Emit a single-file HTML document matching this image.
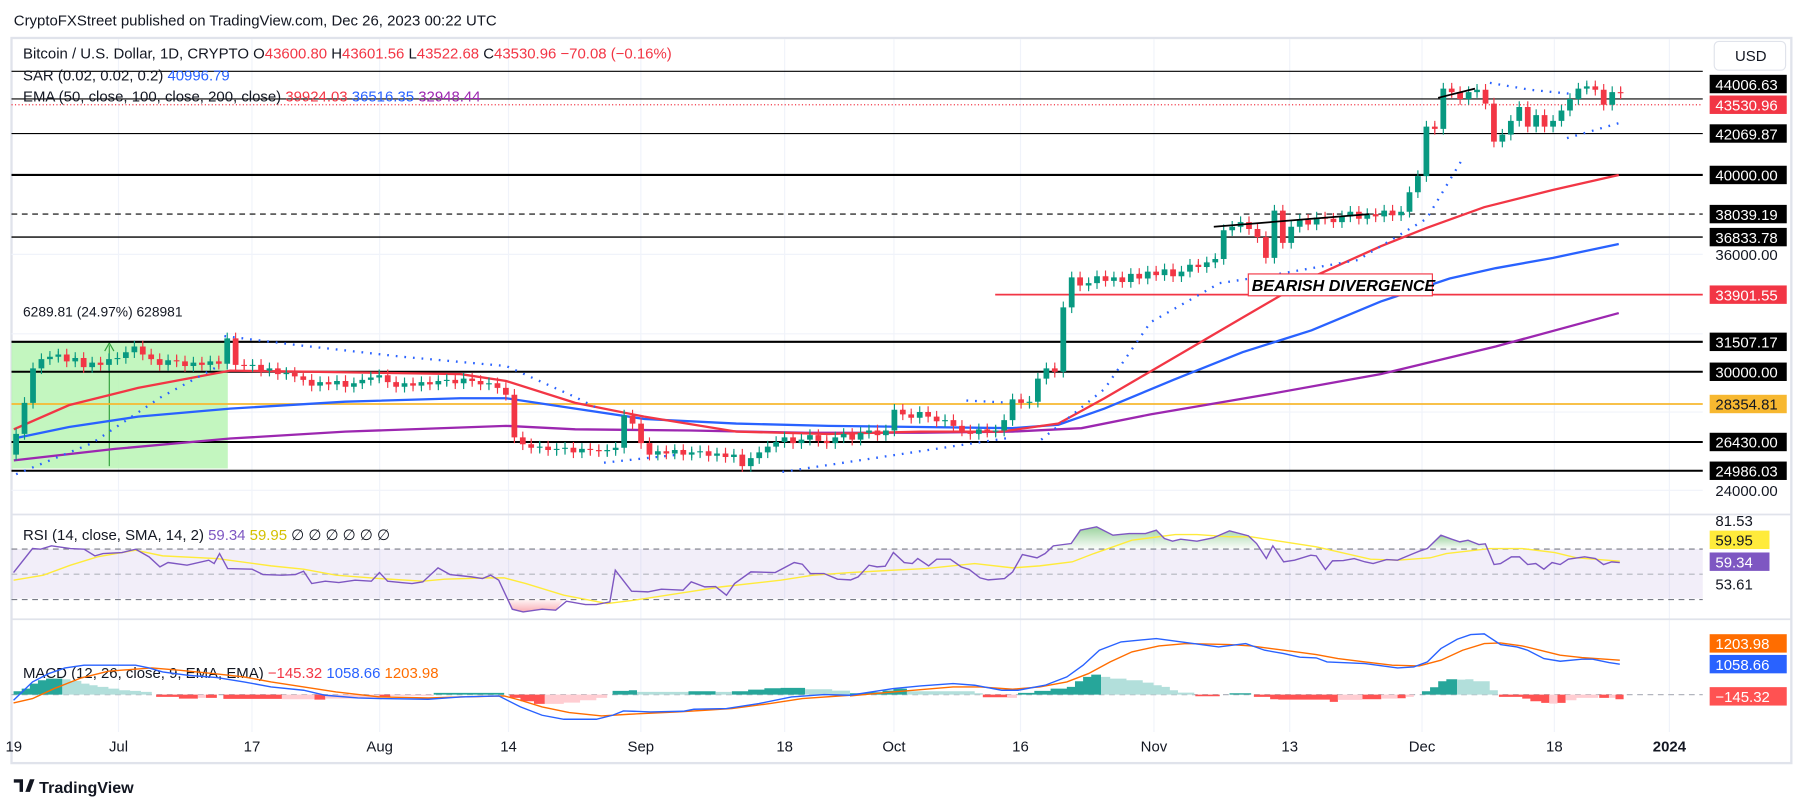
<!DOCTYPE html>
<html><head><meta charset="utf-8"><style>
html,body{margin:0;padding:0;background:#fff;}
svg{display:block;font-family:"Liberation Sans",sans-serif;}
</style></head><body>
<svg width="1804" height="808" viewBox="0 0 1568 702" preserveAspectRatio="none" xmlns="http://www.w3.org/2000/svg" xmlns:xlink="http://www.w3.org/1999/xlink">
<defs>
<marker id="mg" markerUnits="userSpaceOnUse" markerWidth="4" markerHeight="10" refX="2" refY="5" overflow="visible"><line x1="2" y1="0" x2="2" y2="10" stroke="#089981" stroke-width="1"/></marker>
<marker id="mr" markerUnits="userSpaceOnUse" markerWidth="4" markerHeight="10" refX="2" refY="5" overflow="visible"><line x1="2" y1="0" x2="2" y2="10" stroke="#f23645" stroke-width="1"/></marker>
<linearGradient id="gg" x1="0" y1="0" x2="0" y2="1"><stop offset="0" stop-color="#4caf50" stop-opacity="0.55"/><stop offset="1" stop-color="#4caf50" stop-opacity="0.02"/></linearGradient>
<linearGradient id="rg" x1="0" y1="0" x2="0" y2="1"><stop offset="0" stop-color="#f23645" stop-opacity="0.05"/><stop offset="1" stop-color="#f23645" stop-opacity="0.4"/></linearGradient>
<path id="gb" d="M14,377V395M21.3,350V377M28.7,320V350M36,312V320M43.4,310V312M50.7,308V310M65.4,311V314M80.1,315V319M94.7,312V317M102.1,311V312M109.4,306V311M116.8,301V306M146.1,313V317M168.1,315V318M182.8,314V317M197.5,294V316M219.5,317V318M234.2,320V322M248.9,324V325M278.2,332V335M292.9,331V334M307.6,333V336M314.9,330V333M322.3,328V330M329.6,326V328M351.6,333V336M366.3,332V335M381,331V334M388.3,330V331M403,329V333M425,333V334M469.1,388V389M483.8,390V391M491.1,389V390M505.8,390V393M527.8,391V392M535.1,389V391M542.5,361V389M571.8,392V395M586.5,391V394M601.2,393V395M608.5,392V393M623.2,394V396M637.9,395V397M652.6,398V405M659.9,393V398M667.3,388V393M674.6,384V388M681.9,380V384M696.6,382V385M704,378V382M726,380V385M733.3,377V380M748,376V382M755.3,374V376M770,374V378M777.4,356V374M799.4,358V363M821.4,365V366M850.8,373V377M865.4,374V375M872.8,365V374M880.1,347V365M894.8,349V350M902.1,329V349M909.5,320V329M924.2,267V323M931.5,241V267M946.2,246V248M953.5,240V246M968.2,241V244M982.9,238V245M997.6,236V242M1012.2,234V239M1026.9,236V240M1034.3,230V236M1048.9,228V232M1056.3,225V228M1063.6,200V225M1071,197V200M1078.3,193V197M1107.7,183V224M1122.3,197V211M1129.7,191V197M1144.4,189V195M1166.4,188V193M1173.7,184V188M1188.4,186V190M1203.1,183V188M1217.8,184V187M1225.1,167V184M1232.4,153V167M1239.8,110V153M1254.5,77V112M1276.5,80V86M1283.8,78V80M1305.8,117V123M1313.2,105V117M1320.5,93V105M1335.2,100V110M1349.9,105V110M1357.2,96V105M1364.6,86V96M1371.9,77V86M1379.2,75V77M1401.3,80V91"/>
<path id="rb" d="M58,308V314M72.7,311V319M87.4,315V317M124.1,301V308M131.4,308V312M138.8,312V317M153.5,313V314M160.8,314V318M175.5,315V317M190.2,314V316M204.8,294V317M212.2,317V318M226.9,317V322M241.5,320V325M256.2,324V327M263.6,327V330M270.9,330V335M285.6,332V334M300.3,331V336M337,326V332M344.3,332V336M359,333V335M373.7,332V334M395.7,330V333M410.4,329V331M417.7,331V334M432.4,333V337M439.7,337V343M447.1,343V380M454.4,380V386M461.7,386V389M476.4,388V391M498.4,389V393M513.1,390V391M520.5,391V392M549.8,361V368M557.2,368V385M564.5,385V395M579.2,392V394M593.9,391V395M615.9,392V396M630.6,394V397M645.2,395V405M689.3,380V385M711.3,378V383M718.6,383V385M740.7,377V382M762.7,374V378M784.7,356V360M792,360V363M806.7,358V362M814.1,362V366M828.7,365V370M836.1,370V374M843.4,374V377M858.1,373V375M887.5,347V350M916.8,320V323M938.8,241V248M960.9,240V244M975.5,241V245M990.2,238V242M1004.9,236V239M1019.6,234V240M1041.6,230V232M1085.6,193V199M1093,199V206M1100.3,206V224M1115,183V211M1137,191V195M1151.7,189V190M1159,190V193M1181.1,184V190M1195.7,186V188M1210.4,183V187M1247.1,110V112M1261.8,77V80M1269.1,80V86M1291.2,78V90M1298.5,90V123M1327.9,93V110M1342.5,100V110M1386.6,75V78M1393.9,78V91M1408.6,80V81"/>
</defs>
<rect width="1568" height="702" fill="#fff"/>
<text x="12" y="22" font-size="13" fill="#131722">CryptoFXStreet published on TradingView.com, Dec 26, 2023 00:22 UTC</text>
<rect x="10" y="33" width="1547" height="630" fill="#fff" stroke="#e0e3eb" stroke-width="2"/>
<g stroke="#f0f3fa" stroke-width="1">
<line x1="103" y1="34" x2="103" y2="636"/><line x1="219" y1="34" x2="219" y2="636"/><line x1="330" y1="34" x2="330" y2="636"/><line x1="442" y1="34" x2="442" y2="636"/><line x1="557" y1="34" x2="557" y2="636"/><line x1="682" y1="34" x2="682" y2="636"/><line x1="777" y1="34" x2="777" y2="636"/><line x1="887" y1="34" x2="887" y2="636"/><line x1="1003" y1="34" x2="1003" y2="636"/><line x1="1121" y1="34" x2="1121" y2="636"/><line x1="1236" y1="34" x2="1236" y2="636"/><line x1="1351" y1="34" x2="1351" y2="636"/><line x1="1451" y1="34" x2="1451" y2="636"/>
<line x1="10" y1="221" x2="1480" y2="221"/><line x1="10" y1="290" x2="1480" y2="290"/><line x1="10" y1="358" x2="1480" y2="358"/><line x1="10" y1="426" x2="1480" y2="426"/>
</g>
<line x1="10" y1="447" x2="1557" y2="447" stroke="#e0e3eb" stroke-width="1.5"/>
<line x1="10" y1="538" x2="1557" y2="538" stroke="#e0e3eb" stroke-width="1.5"/>
<rect x="10" y="297" width="188" height="110" fill="#b9f5b4" opacity="0.85"/>
<line x1="95" y1="405" x2="95" y2="300" stroke="#2e9e3a" stroke-width="1"/>
<path d="M91,305 L95,298 L99,305" fill="none" stroke="#2e9e3a"/>
<text x="20" y="275" font-size="12" fill="#131722">6289.81 (24.97%) 628981</text>
<g stroke="#000">
<line x1="10" y1="62" x2="1480" y2="62" stroke-width="1"/>
<line x1="10" y1="86" x2="1480" y2="86" stroke-width="1"/>
<line x1="10" y1="116" x2="1480" y2="116" stroke-width="1"/>
<line x1="10" y1="152" x2="1480" y2="152" stroke-width="1.8"/>
<line x1="10" y1="186" x2="1480" y2="186" stroke-width="1" stroke-dasharray="5 4"/>
<line x1="10" y1="206" x2="1480" y2="206" stroke-width="1.2"/>
<line x1="10" y1="297" x2="1480" y2="297" stroke-width="1.8"/>
<line x1="10" y1="323" x2="1480" y2="323" stroke-width="1.8"/>
<line x1="10" y1="384" x2="1480" y2="384" stroke-width="1.8"/>
<line x1="10" y1="409" x2="1480" y2="409" stroke-width="1.8"/>
</g>
<line x1="10" y1="91" x2="1480" y2="91" stroke="#f23645" stroke-width="1" stroke-dasharray="1 2"/>
<line x1="865" y1="256" x2="1480" y2="256" stroke="#f23645" stroke-width="1.5"/>
<line x1="10" y1="351" x2="1480" y2="351" stroke="#f7b830" stroke-width="1.5"/>
<polyline fill="none" stroke="#9c27b0" stroke-width="2" points="12,400 100,390 200,381 300,375 440,370 500,373 600,374 700,376 800,376 880,375 940,372 1000,360 1100,343 1200,325 1300,301 1407,272"/>
<polyline fill="none" stroke="#2962ff" stroke-width="2" points="12,381 60,371 120,362 200,355 300,349 400,346 440,346 500,355 560,364 640,368 720,370 800,371 880,372 920,369 960,355 1020,330 1080,306 1140,287 1200,262 1260,242 1300,233 1350,224 1407,212"/>
<polyline fill="none" stroke="#f23645" stroke-width="2" points="12,373 60,352 120,337 200,322 270,323 400,325 440,331 500,350 560,362 640,375 720,377 800,375 870,375 920,368 960,346 1020,311 1080,276 1140,241 1200,214 1240,198 1290,180 1350,165 1407,152"/>
<g fill="none" stroke="#2962ff" stroke-width="2" stroke-dasharray="1.5 6">
<polyline points="14,412 80,385 140,345 190,318"/>
<polyline points="195,292 260,300 350,310 440,318 500,345 520,355"/>
<polyline points="525,402 590,395"/>
<polyline points="680,410 780,395 880,380"/>
<polyline points="840,348 880,350"/>
<polyline points="905,382 960,338 1000,280 1060,246 1100,240 1180,226 1240,190 1270,140"/>
<polyline points="1295,72 1330,78 1370,82"/>
<polyline points="1362,120 1407,107"/>
</g>
<use xlink:href="#gb" href="#gb" fill="none" stroke="#089981" stroke-width="1" marker-start="url(#mg)" marker-mid="url(#mg)" marker-end="url(#mg)"/>
<use xlink:href="#rb" href="#rb" fill="none" stroke="#f23645" stroke-width="1" marker-start="url(#mr)" marker-mid="url(#mr)" marker-end="url(#mr)"/>
<use xlink:href="#gb" href="#gb" fill="none" stroke="#089981" stroke-width="5"/>
<use xlink:href="#rb" href="#rb" fill="none" stroke="#f23645" stroke-width="5"/>
<line x1="1055" y1="197" x2="1190" y2="186" stroke="#000" stroke-width="1.5"/>
<line x1="1250" y1="85" x2="1282" y2="77" stroke="#000" stroke-width="1.5"/>
<rect x="1085" y="238" width="160" height="19" fill="#fff" stroke="#f23645" stroke-width="1"/>
<text x="1088" y="253" font-size="14" font-weight="bold" font-style="italic" fill="#000">BEARISH DIVERGENCE</text>
<g font-size="13">
<text x="20" y="51" fill="#131722">Bitcoin / U.S. Dollar, 1D, CRYPTO  O<tspan fill="#f23645">43600.80</tspan>  H<tspan fill="#f23645">43601.56</tspan>  L<tspan fill="#f23645">43522.68</tspan>  C<tspan fill="#f23645">43530.96  −70.08 (−0.16%)</tspan></text>
<text x="20" y="70" fill="#131722">SAR (0.02, 0.02, 0.2)  <tspan fill="#2962ff">40996.79</tspan></text>
<text x="20" y="88" fill="#131722">EMA (50, close, 100, close, 200, close)  <tspan fill="#f23645">39924.03</tspan>  <tspan fill="#2962ff">36516.35</tspan>  <tspan fill="#9c27b0">32948.44</tspan></text>
<text x="20" y="469" fill="#131722">RSI (14, close, SMA, 14, 2)  <tspan fill="#7e57c2">59.34</tspan>  <tspan fill="#d4c000">59.95</tspan>  ∅  ∅  ∅  ∅  ∅  ∅</text>
<text x="20" y="589" fill="#131722">MACD (12, 26, close, 9, EMA, EMA)  <tspan fill="#f23645">−145.32</tspan>  <tspan fill="#2962ff">1058.66</tspan>  <tspan fill="#ff6d00">1203.98</tspan></text>
</g>
<rect x="10" y="477" width="1470" height="43" fill="#7e57c2" opacity="0.1"/>
<g stroke="#787b86" stroke-width="1" stroke-dasharray="5 4">
<line x1="10" y1="477" x2="1480" y2="477"/><line x1="10" y1="498.9" x2="1480" y2="498.9" stroke="#b2b5be"/><line x1="10" y1="520.9" x2="1480" y2="520.9"/>
<line x1="10" y1="603.5" x2="1480" y2="603.5" stroke="#b2b5be"/>
</g>
<!-- indicators left half (zoom coords) -->
<g transform="translate(0,447.6) scale(0.4712,0.2897)">
<polygon fill="url(#rg)" points="935,253 945,282 965,290 1000,282 1025,285 1040,253"/>
<g stroke="none">
<path fill="#26a69a" d="M25,538V528H40V520H55V505H70V495H85V490H115V538ZM800,538V533H930V538ZM1130,538V527H1160V525H1175V538ZM1270,538V528H1320V538ZM1350,538V528H1380V523H1410V519H1440V518H1485V538Z"/>
<path fill="#b2dfdb" d="M115,538V492H130V497H150V505H165V510H180V515H200V520H220V525H240V527H260V530H280V538ZM1175,538V530H1270V538ZM1320,538V530H1350V538ZM1485,538V522H1535V526H1568V538Z"/>
<path fill="#ff5252" d="M288,538V545H330V550H365V538ZM380,538V548H400V538ZM412,538V551H520V538ZM580,538V553H600V538ZM700,538V544H720V538ZM940,538V548H960V558H985V566H1005V538Z"/>
<path fill="#ffcdd2" d="M365,538V548H380V538ZM520,538V552H580V538ZM600,538V550H700V538ZM720,538V542H800V538ZM1005,538V566H1040V562H1070V555H1100V548H1120V538Z"/>
</g>
<g fill="none" stroke-width="1.4" vector-effect="non-scaling-stroke">
<polyline stroke="#ffeb3b" vector-effect="non-scaling-stroke" points="25,195 80,180 130,150 180,125 250,105 300,122 400,130 500,152 560,162 620,180 700,190 780,198 820,192 900,188 930,188 970,205 1040,240 1120,265 1170,255 1250,235 1330,215 1440,195 1500,180 1568,172"/>
<polyline stroke="#7e57c2" vector-effect="non-scaling-stroke" points="25,172 60,100 75,102 95,92 130,100 155,102 175,122 190,115 225,112 250,102 275,125 295,155 310,142 345,150 385,135 395,145 405,115 420,160 465,162 485,178 520,180 545,178 560,168 575,205 600,198 625,202 655,195 685,198 700,172 715,198 740,202 760,205 780,200 808,158 830,178 870,185 890,190 905,180 920,195 945,282 965,290 1000,282 1025,285 1045,258 1080,268 1100,268 1125,260 1135,165 1165,228 1195,230 1220,222 1260,225 1275,200 1300,215 1320,214 1340,240 1355,205 1385,170 1430,172 1465,142 1480,147 1495,175 1520,175 1545,192 1568,194"/>
<polyline stroke="#ff6d00" vector-effect="non-scaling-stroke" points="25,563 60,550 100,520 150,488 200,468 280,458 330,465 400,476 450,485 500,500 560,515 620,530 700,545 790,548 850,545 930,542 960,555 1000,575 1050,592 1110,602 1160,597 1250,590 1300,585 1350,580 1420,565 1480,550 1568,540"/>
<polyline stroke="#2962ff" vector-effect="non-scaling-stroke" points="25,555 60,500 90,475 120,458 155,450 200,450 250,450 275,458 300,470 345,480 400,487 450,500 500,515 560,525 600,540 660,548 700,550 790,552 850,545 920,542 960,575 1000,600 1040,612 1100,612 1130,600 1150,587 1200,590 1260,588 1280,582 1340,580 1400,565 1460,545 1520,538 1568,540"/>
</g>
</g>
<!-- indicators right half -->
<g transform="translate(738.8,447.6) scale(0.4712,0.2897)">
<polygon fill="url(#gg)" points="372,102 375,92 408,85 425,45 455,35 485,60 515,55 545,55 565,45 580,70 595,78 610,72 640,78 670,68 700,47 735,62 750,85 757,102"/>
<polygon fill="url(#gg)" points="1055,102 1065,100 1090,60 1110,72 1125,80 1140,75 1160,88 1172,86 1176,102"/>
<path fill="#26a69a" d="M0,538V534H30V531H60V526H80V520H105V538ZM310,538V533H340V527H370V520H400V515H415V498H430V485H445V478H463V538ZM700,538V534H740V538ZM1055,538V528H1070V516H1085V498H1100V492H1120V538Z"/>
<path fill="#b2dfdb" d="M105,538V528H230V534H245V538ZM463,538V485H480V490H510V495H540V502H560V510H575V515H590V525H605V532H635V538ZM1120,538V493H1135V492H1150V498H1180V525H1195V538Z"/>
<path fill="#ff5252" d="M245,538V546H290V538ZM637,538V543H682V538ZM745,538V545H775V552H790V538ZM790,538V553H885V560H900V538ZM945,538V552H980V538ZM1010,538V549H1025V538ZM1197,538V545H1240V550H1255V558H1275V563H1290V538ZM1305,538V563H1320V538ZM1382,538V548H1400V538ZM1412,538V552H1427V538Z"/>
<path fill="#ffcdd2" d="M290,538V548H308V538ZM900,538V554H945V538ZM980,538V550H1010V538ZM1025,538V545H1040V538ZM1290,538V565H1305V538ZM1320,538V555H1340V548H1380V538ZM1400,538V548H1412V538Z"/>
<g fill="none" stroke-width="1.4">
<polyline stroke="#ffeb3b" vector-effect="non-scaling-stroke" points="0,172 80,165 140,160 230,145 300,158 350,152 410,140 450,115 520,75 600,58 640,58 700,65 740,65 800,80 860,95 960,132 1010,135 1070,128 1100,115 1180,100 1240,100 1300,112 1340,128 1420,138"/>
<polyline stroke="#7e57c2" vector-effect="non-scaling-stroke" points="0,195 15,185 35,150 50,155 65,153 80,112 100,142 115,145 125,130 145,152 160,132 185,132 205,155 220,163 240,188 255,194 285,190 300,170 318,118 345,128 360,115 375,92 408,85 425,45 455,35 485,60 515,55 545,55 565,45 580,70 595,78 610,72 640,78 670,68 700,47 735,62 750,85 768,130 780,92 800,140 820,135 850,120 860,122 877,163 890,137 910,136 930,130 950,140 965,145 990,133 1010,135 1035,118 1050,108 1065,100 1090,60 1110,72 1125,80 1140,75 1160,88 1172,86 1188,148 1200,145 1220,125 1235,125 1250,148 1265,145 1280,162 1295,142 1310,148 1325,132 1355,125 1375,130 1390,148 1405,140 1420,142"/>
<polyline stroke="#ff6d00" vector-effect="non-scaling-stroke" points="0,542 80,530 190,515 240,515 300,522 350,515 400,500 440,475 480,440 520,410 570,392 620,385 700,388 740,392 800,405 860,418 900,430 950,440 1000,450 1050,452 1090,435 1130,405 1170,385 1200,383 1240,392 1280,408 1310,420 1350,427 1420,435"/>
<polyline stroke="#2962ff" vector-effect="non-scaling-stroke" points="0,540 80,520 130,512 190,505 230,510 280,525 310,525 360,510 400,485 430,450 460,405 500,380 565,370 620,382 680,395 730,385 765,405 800,415 830,426 860,428 880,440 950,445 1010,458 1040,455 1065,440 1090,400 1120,372 1145,358 1170,356 1200,388 1230,395 1250,405 1280,430 1310,438 1350,432 1370,432 1400,442 1420,447"/>
</g>
</g>
<rect x="1490" y="36" width="62" height="25" rx="4" fill="#fff" stroke="#e0e3eb"/>
<text x="1508" y="53" font-size="13" fill="#131722">USD</text>
<g font-size="13" fill="#fff">
<rect x="1486" y="65" width="67" height="16" fill="#000"/><text x="1491" y="78">44006.63</text>
<rect x="1486" y="83" width="67" height="16" fill="#f23645"/><text x="1491" y="96">43530.96</text>
<rect x="1486" y="108" width="67" height="16" fill="#000"/><text x="1491" y="121">42069.87</text>
<rect x="1486" y="144" width="67" height="16" fill="#000"/><text x="1491" y="157">40000.00</text>
<rect x="1486" y="178" width="67" height="16" fill="#000"/><text x="1491" y="191">38039.19</text>
<rect x="1486" y="198" width="67" height="16" fill="#000"/><text x="1491" y="211">36833.78</text>
<text x="1491" y="226" fill="#131722">36000.00</text>
<rect x="1486" y="248" width="67" height="16" fill="#f23645"/><text x="1491" y="261">33901.55</text>
<rect x="1486" y="289" width="67" height="16" fill="#000"/><text x="1491" y="302">31507.17</text>
<rect x="1486" y="315" width="67" height="16" fill="#000"/><text x="1491" y="328">30000.00</text>
<rect x="1486" y="343" width="67" height="16" fill="#f7b830"/><text x="1491" y="356" fill="#131722">28354.81</text>
<rect x="1486" y="376" width="67" height="16" fill="#000"/><text x="1491" y="389">26430.00</text>
<rect x="1486" y="401" width="67" height="16" fill="#000"/><text x="1491" y="414">24986.03</text>
<text x="1491" y="431" fill="#131722">24000.00</text>
<text x="1491" y="457" fill="#131722">81.53</text>
<rect x="1486" y="461" width="52" height="16" fill="#ffeb3b"/><text x="1491" y="474" fill="#131722">59.95</text>
<rect x="1486" y="480" width="52" height="16" fill="#7e57c2"/><text x="1491" y="493">59.34</text>
<text x="1491" y="512" fill="#131722">53.61</text>
<rect x="1486" y="551" width="67" height="16" fill="#ff6d00"/><text x="1491" y="564">1203.98</text>
<rect x="1486" y="569" width="67" height="16" fill="#2962ff"/><text x="1491" y="582">1058.66</text>
<rect x="1486" y="597" width="67" height="16" fill="#ff5252"/><text x="1491" y="610">−145.32</text>
</g>
<g font-size="13" fill="#131722" text-anchor="middle">
<text x="12" y="653">19</text><text x="103" y="653">Jul</text><text x="219" y="653">17</text><text x="330" y="653">Aug</text><text x="442" y="653">14</text><text x="557" y="653">Sep</text><text x="682" y="653">18</text><text x="777" y="653">Oct</text><text x="887" y="653">16</text><text x="1003" y="653">Nov</text><text x="1121" y="653">13</text><text x="1236" y="653">Dec</text><text x="1351" y="653">18</text><text x="1451" y="653" font-weight="bold">2024</text>
</g>
<path d="M12,677 h8 v11 h-3 v-8 h-5z M22,688 l4,-11 h4 l-4,11z" fill="#131722"/>
<text x="34" y="689" font-size="14" font-weight="bold" fill="#131722">TradingView</text>
</svg>
</body></html>
